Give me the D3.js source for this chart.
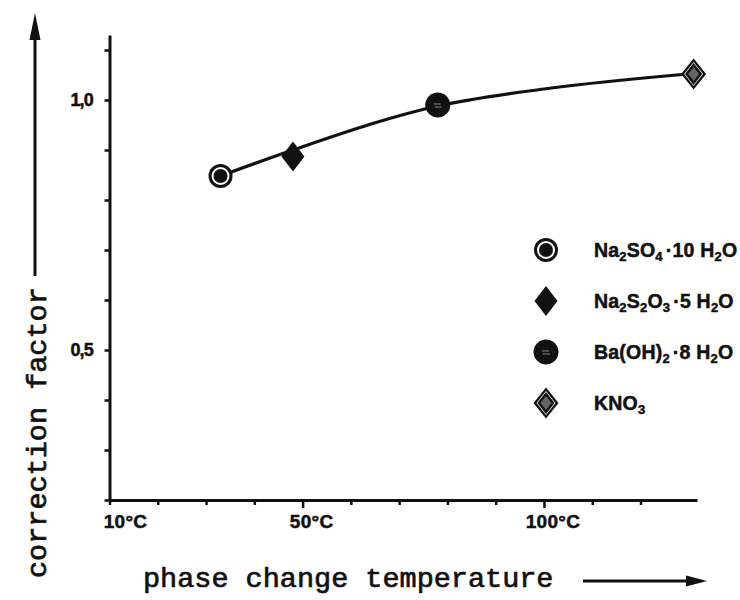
<!DOCTYPE html>
<html><head><meta charset="utf-8">
<script src="https://cdn.jsdelivr.net/npm/d3@7"></script>
<style>body{margin:0;background:#fff}</style>
</head><body>
<svg id="chart" width="740" height="600"></svg>
<script>
// ---- data ----
const compounds = ["Na_2SO_4·10 H_2O", "Na_2S_2O_3·5 H_2O", "Ba(OH)_2·8 H_2O", "KNO_3"];
const markerTypes = ["ringCircle", "diamond", "circle", "ringDiamond"];
const temperatures = [33, 48, 78, 131];          // phase change temperature, °C
const corrections  = [0.848, 0.887, 0.99, 1.052]; // correction factor
// hand-drawn fitted curve
const curveTemps = [33, 48, 78, 100, 131];
const curveValues = [0.848, 0.900, 0.988, 1.022, 1.053];
const xTickValues = [10, 20, 30, 40, 50, 60, 70, 80, 90, 100, 110, 120];
const xMajorTicks = [50, 100];
const xLabelValues = [10, 50, 100];
const xTickLabels = ["10°C", "50°C", "100°C"];
const yTickValues = [0.2, 0.3, 0.4, 0.5, 0.6, 0.7, 0.8, 0.9, 1.0, 1.1];
const yLabelValues = [1.0, 0.5];
const yTickLabels = ["1,0", "0,5"];
const xTitle = "phase change temperature";
const yTitle = "correction factor";

// ---- layout ----
const svg = d3.select("#chart");
const x = d3.scaleLinear().domain([10, 131.7]).range([109.5, 697]);
const y = d3.scaleLinear().domain([0.2, 1.13]).range([500, 35]);
const ink = "#111";

// axes
const yAxis = svg.append("g").attr("transform", `translate(${x(10)},0)`)
  .call(d3.axisLeft(y).tickValues(yTickValues).tickSize(5).tickSizeOuter(0).tickFormat(""));
const xAxis = svg.append("g").attr("transform", `translate(0,${y(0.2)})`)
  .call(d3.axisBottom(x).tickValues(xTickValues).tickSize(5).tickSizeOuter(0).tickFormat(""));
xAxis.selectAll(".tick line").attr("y2", d => xMajorTicks.includes(d) ? 8 : 5);
[xAxis, yAxis].forEach(g => {
  g.select(".domain").attr("stroke", ink).attr("stroke-width", 3);
  g.selectAll(".tick line").attr("stroke", ink).attr("stroke-width", 2.5);
});

// tick labels
const tickFont = "'Liberation Sans', Arial, sans-serif";
svg.append("g").selectAll("text").data(xLabelValues).join("text")
  .attr("x", (d, i) => x(d) + (i === 0 ? 16 : 9))
  .attr("y", 528)
  .attr("text-anchor", "middle")
  .attr("font-family", tickFont).attr("font-weight", "bold").attr("font-size", 19)
  .attr("letter-spacing", "0.3")
  .attr("stroke", ink).attr("stroke-width", 0.5)
  .attr("fill", ink)
  .text((d, i) => xTickLabels[i]);
svg.append("g").selectAll("text").data(yLabelValues).join("text")
  .attr("x", 93)
  .attr("y", d => y(d) + 6)
  .attr("text-anchor", "end")
  .attr("font-family", tickFont).attr("font-weight", "bold").attr("font-size", 18)
  .attr("letter-spacing", "-0.8")
  .attr("stroke", ink).attr("stroke-width", 0.5)
  .attr("fill", ink)
  .text((d, i) => yTickLabels[i]);

// axis titles with arrows
const titleFont = "'Liberation Mono', 'Courier New', monospace";
svg.append("text")
  .attr("x", 143).attr("y", 587)
  .attr("font-family", titleFont).attr("font-size", 28.5)
  .attr("fill", ink).attr("stroke", ink).attr("stroke-width", 0.7)
  .text(xTitle);
svg.append("text")
  .attr("transform", "translate(46,578) rotate(-90)")
  .attr("font-family", titleFont).attr("font-size", 28.5)
  .attr("fill", ink).attr("stroke", ink).attr("stroke-width", 0.7)
  .text(yTitle);
// x arrow
svg.append("line").attr("x1", 583).attr("y1", 581).attr("x2", 690).attr("y2", 581)
  .attr("stroke", ink).attr("stroke-width", 3);
svg.append("path").attr("d", "M707,581 L686,575.5 L686,586.5 Z").attr("fill", ink);
// y arrow
svg.append("line").attr("x1", 35).attr("y1", 276).attr("x2", 35).attr("y2", 36)
  .attr("stroke", ink).attr("stroke-width", 3);
svg.append("path").attr("d", "M35,13 L29.5,40 L40.5,40 Z").attr("fill", ink);

// curve
const pts = curveTemps.map((t, i) => [x(t), y(curveValues[i])]);
svg.append("path")
  .attr("d", d3.line().curve(d3.curveMonotoneX)(pts))
  .attr("fill", "none").attr("stroke", ink).attr("stroke-width", 3.2);

// markers
function diamond(hw, hh) { return `M0,${-hh} L${hw},0 L0,${hh} L${-hw},0 Z`; }
function drawMarker(g, type) {
  if (type === "ringCircle") {
    g.append("circle").attr("r", 12).attr("fill", ink);
    g.append("circle").attr("r", 9).attr("fill", "#fff");
    g.append("circle").attr("r", 7).attr("fill", ink);
  } else if (type === "diamond") {
    g.append("path").attr("d", diamond(11.5, 15)).attr("fill", ink);
  } else if (type === "circle") {
    g.append("circle").attr("r", 12.5).attr("fill", ink);
    g.append("path").attr("d", "M-4,-1 L3,-1 M-3,2 L4,2").attr("stroke", "#888").attr("stroke-width", 1);
  } else if (type === "ringDiamond") {
    g.append("path").attr("d", diamond(12.5, 15.5)).attr("fill", ink);
    g.append("path").attr("d", diamond(9.5, 12)).attr("fill", "#fff");
    g.append("path").attr("d", diamond(7, 9)).attr("fill", "#666").attr("stroke", ink).attr("stroke-width", 2.5);
  }
}
svg.append("g").selectAll("g").data(temperatures).join("g")
  .attr("transform", (d, i) => `translate(${x(d)},${y(corrections[i])})`)
  .each(function(d, i) { drawMarker(d3.select(this), markerTypes[i]); });

// legend
const legendFont = "'Liberation Sans', Arial, sans-serif";
const leg = svg.append("g").selectAll("g").data(compounds).join("g")
  .attr("transform", (d, i) => `translate(546,${250 + i * 51})`);
leg.each(function(d, i) { drawMarker(d3.select(this), markerTypes[i]); });
leg.append("text")
  .attr("x", 48).attr("y", 7)
  .attr("font-family", legendFont).attr("font-weight", "bold").attr("font-size", 19.5)
  .attr("letter-spacing", "0.2")
  .attr("stroke", ink).attr("stroke-width", 0.5)
  .attr("fill", ink)
  .each(function(d) {
    const t = d3.select(this);
    const parts = d.split(/(_\d|·)/).filter(s => s.length);
    let sub = false;
    parts.forEach(p => {
      if (p[0] === "_") {
        t.append("tspan").attr("font-size", 13).attr("dy", 4).text(p.slice(1));
        sub = true;
      } else if (p === "·") {
        t.append("tspan").attr("dy", sub ? -4 : 0).attr("dx", 3).text("·");
        t.append("tspan").attr("dx", 3).text("");
        sub = false;
      } else {
        t.append("tspan").attr("dy", sub ? -4 : 0).text(p);
        sub = false;
      }
    });
  });
</script>
</body></html>
